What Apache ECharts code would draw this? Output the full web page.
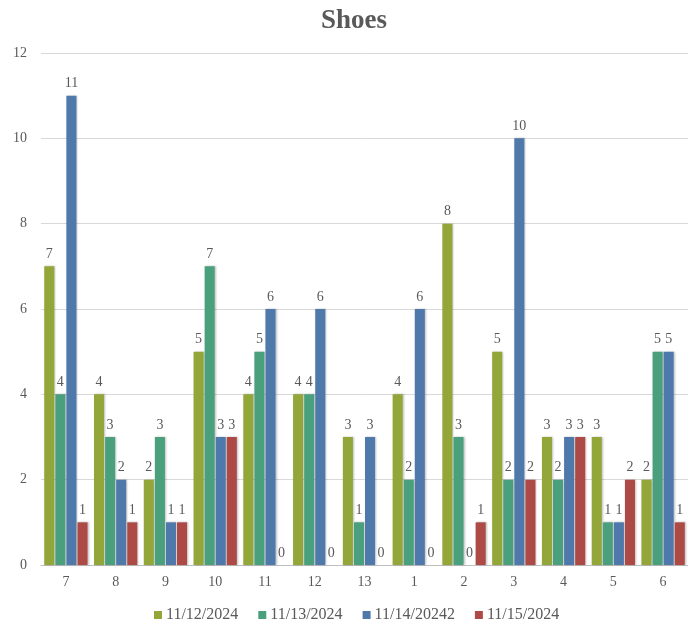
<!DOCTYPE html>
<html>
<head>
<meta charset="utf-8">
<script src="https://cdn.jsdelivr.net/npm/echarts@6/dist/echarts.min.js"></script>
<style>
  html, body { margin: 0; padding: 0; background: #fff; }
  #chart { width: 688px; height: 622px; }
</style>
</head>
<body>
<div id="chart"></div>
<script>
// Shoe counts by category for four days
const categories = ['7', '8', '9', '10', '11', '12', '13', '1', '2', '3', '4', '5', '6'];
const seriesNames = ['11/12/2024', '11/13/2024', '11/14/20242', '11/15/2024'];
const day1 = [7, 4, 2, 5, 4, 4, 3, 4, 8, 5, 3, 3, 2];
const day2 = [4, 3, 3, 7, 5, 4, 1, 2, 3, 2, 2, 1, 5];
const day3 = [11, 2, 1, 3, 6, 6, 3, 6, 0, 10, 3, 1, 5];
const day4 = [1, 1, 1, 3, 0, 0, 0, 0, 1, 2, 3, 2, 1];
const yTicks = { min: 0, max: 12, interval: 2 };

const colors = ['#93a63a', '#4aa07d', '#5079ab', '#ae4a45'];
const serif = '"Liberation Serif", "DejaVu Serif", serif';
const textColor = '#595959';

const values = [day1, day2, day3, day4];
const series = values.map((data, i) => ({
  name: seriesNames[i],
  type: 'bar',
  data: data,
  barGap: '10%',
  barCategoryGap: '13%',
  itemStyle: {
    color: colors[i],
    shadowColor: 'rgba(0,0,0,0.25)',
    shadowBlur: 2,
    shadowOffsetX: 1,
    shadowOffsetY: 0
  },
  label: {
    show: true,
    position: 'top',
    distance: 5,
    color: textColor,
    fontFamily: serif,
    fontSize: 14
  }
}));

const chart = echarts.init(document.getElementById('chart'), null, { renderer: 'canvas' });
chart.setOption({
  animation: false,
  color: colors,
  title: {
    text: 'Shoes',
    left: 316,
    top: 3,
    textStyle: { fontFamily: serif, fontSize: 27, fontWeight: 'bold', color: textColor }
  },
  legend: {
    top: 602,
    left: 149,
    itemWidth: 8,
    itemHeight: 8,
    itemGap: 20,
    icon: 'rect',
    textStyle: { fontFamily: serif, fontSize: 16, color: textColor, padding: [0, 0, 0, -1] }
  },
  grid: { left: 41, right: -2, top: 53, bottom: 57, containLabel: false },
  xAxis: {
    type: 'category',
    data: categories,
    axisTick: { show: false },
    axisLine: { lineStyle: { color: '#bfbfbf', width: 1 } },
    axisLabel: { fontFamily: serif, fontSize: 14, color: textColor, margin: 10 }
  },
  yAxis: {
    type: 'value',
    min: yTicks.min,
    max: yTicks.max,
    interval: yTicks.interval,
    axisLine: { show: false },
    axisTick: { show: false },
    splitLine: { lineStyle: { color: '#d9d9d9' } },
    axisLabel: { fontFamily: serif, fontSize: 14, color: textColor, margin: 14 }
  },
  series: series
});
</script>
</body>
</html>
